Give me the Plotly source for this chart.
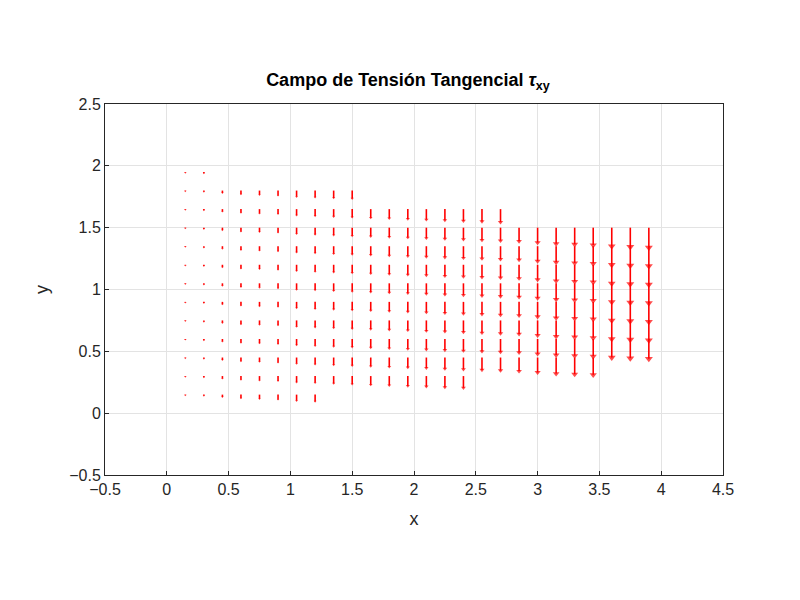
import plotly.graph_objects as go

# column positions, vertical extent and arrow length (tau_xy magnitude, scaled)
col_x = [0.15, 0.30, 0.45, 0.60, 0.75, 0.90, 1.05, 1.20, 1.35, 1.50, 1.65, 1.80, 1.95,
         2.10, 2.25, 2.40, 2.55, 2.70, 2.85, 3.00, 3.15, 3.30, 3.45, 3.60, 3.75, 3.90]
col_ybot = [0.15]*8 + [0.30]*8 + [0.45]*7 + [0.60]*3
col_ytop = [1.95]*2 + [1.80]*8 + [1.65]*8 + [1.50]*8
col_len = [0.005, 0.01, 0.02, 0.03, 0.035, 0.04, 0.05, 0.055, 0.06, 0.065, 0.07, 0.075, 0.08,
           0.085, 0.09, 0.095, 0.10, 0.105, 0.11, 0.12, 0.13, 0.135, 0.14, 0.15, 0.155, 0.16]
step = 0.15

lx, ly, tx, ty, ts = [], [], [], [], []
for x, yb, yt, L in zip(col_x, col_ybot, col_ytop, col_len):
    n = int(round((yt - yb) / step)) + 1
    for k in range(n):
        y = yb + k * step
        lx += [x, x, None]
        ly += [y, y - L, None]
        tx.append(x)
        ty.append(y - L)
        ts.append(max(2, min(7, L * 45)))

fig = go.Figure()
fig.add_trace(go.Scatter(x=lx, y=ly, mode="lines", line=dict(color="red", width=1.6),
                         hoverinfo="skip"))
fig.add_trace(go.Scatter(x=tx, y=ty, mode="markers",
                         marker=dict(symbol="triangle-down", color="red", size=ts, line=dict(width=0))))

ax = dict(showgrid=True, gridcolor="#e3e3e3", zeroline=False, showline=True, mirror=True,
          linecolor="#262626", linewidth=1, ticks="inside", ticklen=4, tickcolor="#262626",
          tickfont=dict(size=16, color="#262626"))
fig.update_xaxes(ax, range=[-0.5, 4.5], dtick=0.5, title=dict(text="x", font=dict(size=18)))
fig.update_yaxes(ax, range=[-0.5, 2.5], dtick=0.5, title=dict(text="y", font=dict(size=18)))
fig.update_layout(
    title=dict(text="<b>Campo de Tensión Tangencial <i>τ</i><sub>xy</sub></b>", x=0.5, y=0.88,
               xanchor="center", yanchor="middle", font=dict(size=18, color="black")),
    width=800, height=600, showlegend=False,
    margin=dict(l=97, r=85, t=96, b=133),
    plot_bgcolor="white", paper_bgcolor="white",
    font=dict(family="Liberation Sans, Arial", color="#262626"))
fig.write_html("out.html")
